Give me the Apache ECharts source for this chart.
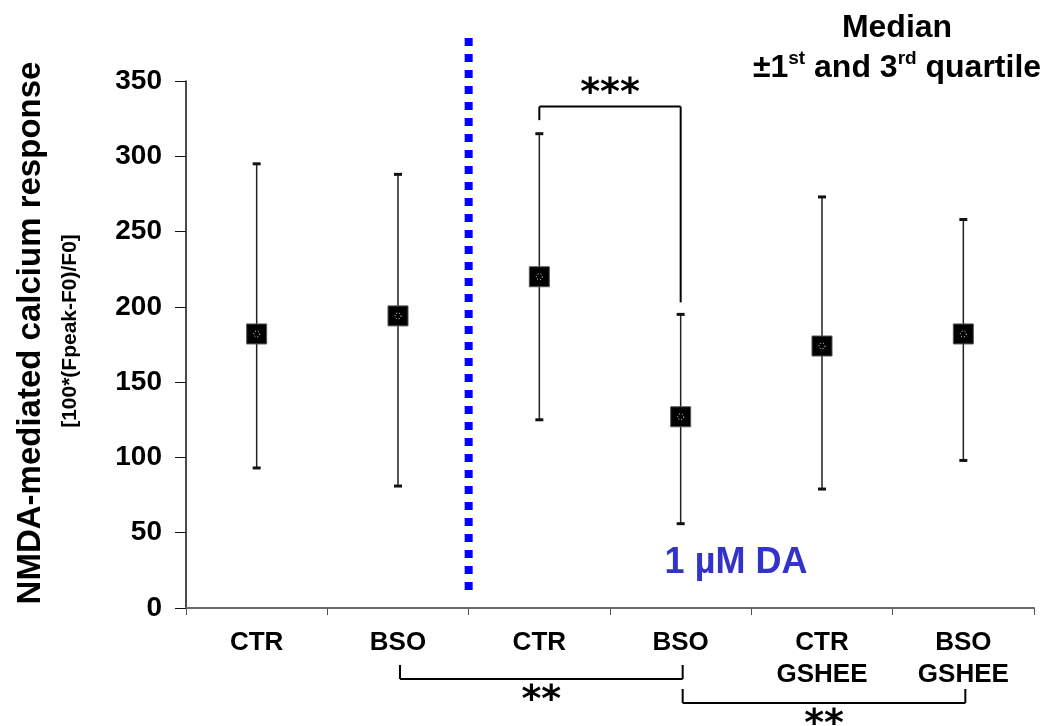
<!DOCTYPE html>
<html>
<head>
<meta charset="utf-8">
<script src="https://cdn.jsdelivr.net/npm/echarts@6/dist/echarts.min.js"></script>
<style>
html, body { margin: 0; padding: 0; background: #fff; }
#main { width: 1053px; height: 726px; }
</style>
</head>
<body>
<div id="main"></div>
<script>
// groups on the x axis
const categories = ['CTR', 'BSO', 'CTR', 'BSO', 'CTR\nGSHEE', 'BSO\nGSHEE'];
// median and 1st / 3rd quartile per group
const medians = [182, 194, 220, 127, 174, 182];
const q1 = [93, 81, 125, 56, 79, 98];
const q3 = [295, 288, 315, 195, 273, 258];
// y axis
const yMin = 0, yMax = 350, yStep = 50;
// significance brackets: [from, to, stars]
const sigTop = [2, 3, '***'];
const sigBottom = [[1, 3, '**'], [3, 5, '**']];

const font = '"Liberation Sans", Arial, Helvetica, sans-serif';
const chart = echarts.init(document.getElementById('main'));

const option = {
    animation: false,
    grid: { left: 186, right: 19, top: 81, bottom: 118 },
    xAxis: {
        type: 'category',
        data: categories,
        boundaryGap: true,
        axisLine: { lineStyle: { color: '#6a6a6a', width: 2 } },
        axisTick: { show: true, length: 7, lineStyle: { color: '#555' } },
        axisLabel: {
            color: '#000', fontFamily: font, fontWeight: 'bold', fontSize: 26,
            margin: 19, lineHeight: 32, interval: 0
        },
        splitLine: { show: false }
    },
    yAxis: {
        type: 'value',
        min: yMin, max: yMax, interval: yStep,
        axisLine: { show: true, lineStyle: { color: '#111', width: 1.5 } },
        axisTick: { show: true, length: 11, lineStyle: { color: '#111' } },
        axisLabel: { color: '#000', fontFamily: font, fontWeight: 'bold', fontSize: 28, margin: 24 },
        splitLine: { show: false }
    },
    series: [
        {
            // quartile whiskers
            type: 'custom',
            data: categories.map((c, i) => [i, q1[i], q3[i]]),
            renderItem: function(params, api) {
                const lo = api.coord([api.value(0), api.value(1)]);
                const hi = api.coord([api.value(0), api.value(2)]);
                return {
                    type: 'group',
                    children: [
                        { type: 'line', shape: { x1: lo[0], y1: lo[1], x2: hi[0], y2: hi[1] },
                          style: { stroke: '#222', lineWidth: 1.5 } },
                        { type: 'rect', shape: { x: hi[0] - 4, y: hi[1] - 1.5, width: 8, height: 3 },
                          style: { fill: '#111' } },
                        { type: 'rect', shape: { x: lo[0] - 4, y: lo[1] - 1.5, width: 8, height: 3 },
                          style: { fill: '#111' } }
                    ]
                };
            },
            z: 2
        },
        {
            // median squares
            type: 'scatter',
            data: medians.map((v, i) => [i, v]),
            symbol: 'rect',
            symbolSize: 20,
            itemStyle: { color: '#000', borderColor: '#555', borderWidth: 1, opacity: 1 },
            z: 3
        },
        {
            type: 'scatter',
            data: medians.map((v, i) => [i, v]),
            symbol: 'circle',
            symbolSize: 6,
            itemStyle: { color: 'rgba(0,0,0,0)', borderColor: '#fff', borderWidth: 1, borderType: [1, 2], opacity: 1 },
            z: 4
        }
    ]
};
chart.setOption(option);

// annotations placed from the axes
const px = (i, v) => chart.convertToPixel({ gridIndex: 0 }, [i, v]);
const line = (x1, y1, x2, y2, extra) => Object.assign({
    type: 'line', shape: { x1, y1, x2, y2 },
    style: { stroke: '#000', lineWidth: 2 }
}, extra || {});
const text = (x, y, t, style) => ({
    type: 'text', x, y,
    style: Object.assign({ text: t, fill: '#000', align: 'center', verticalAlign: 'middle' }, style)
});
const starFont = 'bold 38px "DejaVu Sans", sans-serif';

const g = [];

// blue dotted separator between groups 2 and 3
const sepX = (px(1, 0)[0] + px(2, 0)[0]) / 2;
g.push(line(sepX, 38, sepX, 590, {
    style: { stroke: '#0000ff', lineWidth: 8, lineDash: [8, 8] }
}));

// top bracket
const aTop = px(sigTop[0], 333), aLow = px(sigTop[0], 324), bLow = px(sigTop[1], 203);
g.push(line(aLow[0], aLow[1], aTop[0], aTop[1]));
g.push(line(aTop[0], aTop[1], bLow[0], aTop[1]));
g.push(line(bLow[0], aTop[1], bLow[0], bLow[1]));
g.push(text((aTop[0] + bLow[0]) / 2, aTop[1] - 12, sigTop[2], { font: starFont }));

// bottom brackets
const rows = [[665, 679], [689, 703]];
sigBottom.forEach((s, k) => {
    const xa = px(s[0], 0)[0] + 2, xb = px(s[1], 0)[0] + 2;
    const [top, bot] = rows[k];
    g.push(line(xa, top, xa, bot));
    g.push(line(xa, bot, xb, bot));
    g.push(line(xb, bot, xb, top));
    g.push(text((xa + xb) / 2, bot + 22, s[2], { font: starFont }));
});

// axis titles
g.push(text(31, 333, 'NMDA-mediated calcium response', {
    font: 'bold 33px ' + font
}));
g[g.length - 1].rotation = Math.PI / 2;
g.push(text(70, 331, '[100*(Fpeak-F0)/F0]', {
    font: 'bold 21px ' + font
}));
g[g.length - 1].rotation = Math.PI / 2;

// DA label
g.push(text(736, 563, '1 µM DA', { font: 'bold 36px ' + font, fill: '#3333cc' }));

// legend note
g.push({
    type: 'text', x: 897, y: 4,
    style: {
        text: '{b|Median}\n{b|±1}{s|st}{b| and 3}{s|rd}{b| quartile}',
        align: 'center', verticalAlign: 'top',
        rich: {
            b: { font: 'bold 32px ' + font, fill: '#000', lineHeight: 40, verticalAlign: 'bottom' },
            s: { font: 'bold 19px ' + font, fill: '#000', lineHeight: 40, verticalAlign: 'top', padding: [5, 0, 0, 0] }
        }
    }
});

chart.setOption({ graphic: g });
</script>
</body>
</html>
